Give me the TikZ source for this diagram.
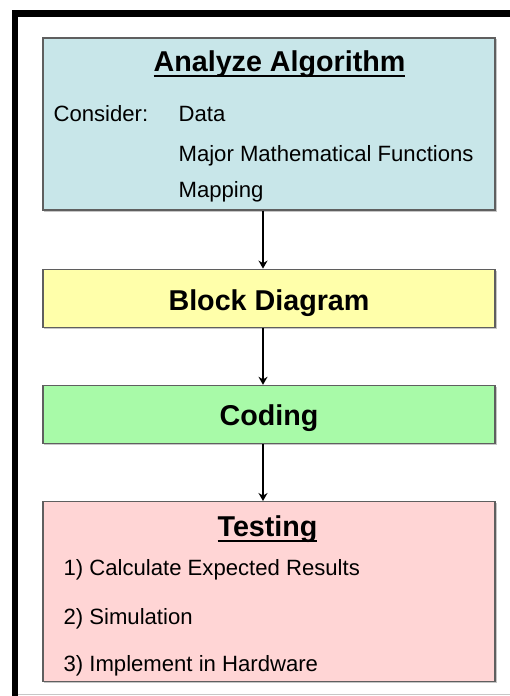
\documentclass[tikz,border=0pt]{standalone}
\usepackage{fontspec}
\setmainfont{Liberation Sans}
\usetikzlibrary{calc,positioning,shadows,arrows.meta}

\definecolor{analyzefill}{RGB}{200,230,233}
\definecolor{blockfill}{RGB}{255,255,170}
\definecolor{codingfill}{RGB}{168,250,168}
\definecolor{testingfill}{RGB}{255,213,213}
\definecolor{boxline}{RGB}{95,95,95}

\newcommand{\ulhead}[1]{\setbox0\hbox{#1}\rlap{\rule[-6bp]{\wd0}{2bp}}\box0}

\tikzset{
    stage/.style={draw=boxline, line width=1.2bp, minimum width=452bp, inner sep=0pt,
        drop shadow={shadow xshift=1.5bp, shadow yshift=-1.5bp, opacity=0.45}},
    headtext/.style={font=\fontsize{28.8}{31}\selectfont\bfseries},
    itemtext/.style={font=\fontsize{22.2}{26}\selectfont, anchor=base west, inner sep=0pt},
    flow/.style={-{Stealth[length=8bp,width=9bp]}, line width=1.9bp},
}

\begin{document}
\begin{tikzpicture}[x=1bp, y=1bp]
        \useasboundingbox (0,0) rectangle (510,-696);
        % frame
        \draw[black!22, line width=1bp] (18,-694.5) -- (510,-694.5);
        \draw[line width=6.8bp] (15,-696) -- (15,-13.6) -- (510,-13.6);

        % stages
        \node[stage, fill=analyzefill, minimum height=172bp] (analyze) at (269,-124) {};
        \node[stage, fill=blockfill, minimum height=58bp, below=58bp of analyze,
            headtext, text height=24bp, text depth=0pt] (block) {Block Diagram};
        \node[stage, fill=codingfill, minimum height=58bp, below=57bp of block,
            headtext, text height=22bp, text depth=0pt] (coding) {Coding};
        \node[stage, fill=testingfill, minimum height=180bp, below=57bp of coding] (testing) {};

        % analyze contents
        \node[headtext, anchor=base west, inner sep=0pt] (analyzehead) at ($(analyze.north west)+(111,-34)$) {\ulhead{Analyze Algorithm}};
        \node[itemtext] (consider) at ($(analyze.north west)+(11,-84)$) {Consider:};
        \node[itemtext] (data) at ($(analyze.north west)+(136,-84)$) {Data};
        \node[itemtext] (functions) at ($(analyze.north west)+(136,-124)$) {Major Mathematical Functions};
        \node[itemtext] (mapping) at ($(analyze.north west)+(136,-160)$) {Mapping};

        % testing contents
        \node[headtext, anchor=base west, inner sep=0pt] (testinghead) at ($(testing.north west)+(175,-35)$) {\ulhead{Testing}};
        \node[itemtext] (expected) at ($(testing.north west)+(21,-74)$) {1) Calculate Expected Results};
        \node[itemtext] (simulation) at ($(testing.north west)+(21,-123)$) {2) Simulation};
        \node[itemtext] (hardware) at ($(testing.north west)+(21,-170)$) {3) Implement in Hardware};

        % flow
        \draw[flow] ([xshift=-6bp]analyze.south) -- ([xshift=-6bp]block.north);
        \draw[flow] ([xshift=-6bp]block.south) -- ([xshift=-6bp]coding.north);
        \draw[flow] ([xshift=-6bp]coding.south) -- ([xshift=-6bp]testing.north);
\end{tikzpicture}
\end{document}
